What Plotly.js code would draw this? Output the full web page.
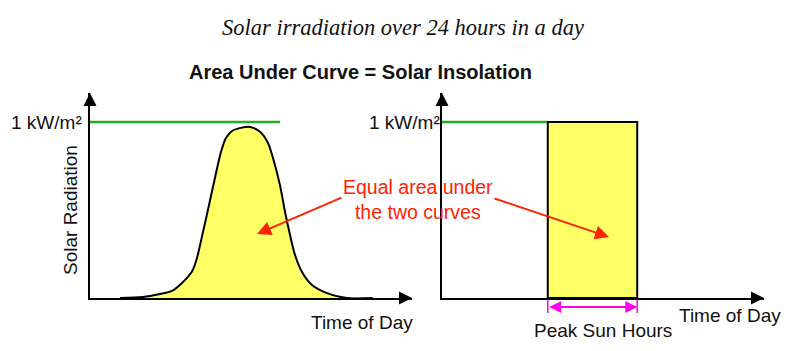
<!DOCTYPE html>
<html><head><meta charset="utf-8">
<script src="https://cdn.plot.ly/plotly-3.0.1.min.js"></script>
<style>html,body{margin:0;padding:0;background:#fff}</style>
</head><body>
<div id="chart" style="width:800px;height:351px"></div>
<script>
// Left panel: solar radiation over the day (hours vs kW/m²)
const hours = [0, 2.2, 3.85, 5.0, 5.96, 6.92, 7.4, 7.98, 8.56, 9.13, 9.71, 10.19, 10.77, 11.73, 12.5, 13.46, 14.23, 14.71, 15.38, 15.87, 16.35, 16.83, 17.5, 18.46, 19.9, 21.8, 24.3];
const radiation = [0, 0.006, 0.023, 0.04, 0.085, 0.15, 0.227, 0.375, 0.528, 0.682, 0.83, 0.909, 0.949, 0.968, 0.972, 0.945, 0.881, 0.795, 0.642, 0.489, 0.358, 0.244, 0.148, 0.074, 0.028, 0.0, 0];
const refLevel = 1; // 1 kW/m²
const refLineLeftHours = [-2.9, 15.4];
// Right panel: equivalent peak sun hours block
const peakStart = 7.7;
const peakEnd = 16.3;
const refLineRightHours = [-2.5, peakStart];
const rectHours = [peakStart, peakStart, peakEnd, peakEnd, peakStart];
const rectValues = [0, refLevel, refLevel, 0, 0];
// Text labels
const mainTitle = 'Solar irradiation over 24 hours in a day';
const subTitle = 'Area Under Curve = Solar Insolation';
const yLabel = 'Solar Radiation';
const xLabel = 'Time of Day';
const levelLabel = '1 kW/m²';
const noteText = 'Equal area under<br>the two curves';
const peakLabel = 'Peak Sun Hours';

const W = 800, H = 351;
const px = x => x / W;
const py = y => (H - y) / H;

const black = '#000000';
const yellow = '#ffff66';
const green = '#22b022';
const red = '#ff2200';
const magenta = '#ff00ee';
const sans = 'Liberation Sans, Arial, sans-serif';

const traces = [
  {x: refLineLeftHours, y: [refLevel, refLevel], xaxis: 'x', yaxis: 'y', mode: 'lines',
   line: {color: green, width: 2.5}, hoverinfo: 'skip'},
  {x: hours, y: radiation, xaxis: 'x', yaxis: 'y', mode: 'lines', fill: 'tozeroy',
   fillcolor: yellow, line: {color: black, width: 2, shape: 'spline', smoothing: 0.8}, hoverinfo: 'skip'},
  {x: refLineRightHours, y: [refLevel, refLevel], xaxis: 'x2', yaxis: 'y2', mode: 'lines',
   line: {color: green, width: 2.5}, hoverinfo: 'skip'},
  {x: rectHours, y: rectValues, xaxis: 'x2', yaxis: 'y2', mode: 'lines', fill: 'toself',
   fillcolor: yellow, line: {color: black, width: 2}, hoverinfo: 'skip'}
];

const axBase = {showline: true, linecolor: black, linewidth: 2, showgrid: false, zeroline: false,
  showticklabels: false, ticks: '', fixedrange: true};
const yDom = [py(298), py(93)];
const yRange = [0, (298 - 93) / 176];

function arrowHead(xp, yp, ax, ay) {
  return {xref: 'paper', yref: 'paper', x: px(xp), y: py(yp), ax: ax, ay: ay, text: '',
    showarrow: true, arrowhead: 2, arrowsize: 1.3, arrowwidth: 2, arrowcolor: black, standoff: 0};
}
function label(text, xp, yp, size, color, extra) {
  return Object.assign({xref: 'paper', yref: 'paper', x: px(xp), y: py(yp), text: text,
    showarrow: false, xanchor: 'center', yanchor: 'middle',
    font: {family: sans, size: size, color: color || '#111'}}, extra || {});
}

const annotations = [
  arrowHead(412, 298, -12, 0),
  arrowHead(90, 93, 0, 12),
  arrowHead(764, 298, -12, 0),
  arrowHead(442, 93, 0, 12),
  label('<b>' + subTitle + '</b>', 360, 72, 20, '#111'),
  label(levelLabel, 46, 122, 19),
  label(levelLabel, 404, 122, 19),
  label(yLabel, 70, 210, 19, '#111', {textangle: -90}),
  label(xLabel, 362, 322, 19),
  label(xLabel, 730, 315, 19),
  label(peakLabel, 603, 330, 19),
  label(noteText, 418, 199, 19.5, red),
  // red pointer arrows
  {xref: 'paper', yref: 'paper', x: px(257), y: py(234), ax: 86, ay: -37, text: '',
   showarrow: true, arrowhead: 2, arrowsize: 1.4, arrowwidth: 2, arrowcolor: red, standoff: 0},
  {xref: 'paper', yref: 'paper', x: px(609), y: py(237), ax: -116, ay: -39, text: '',
   showarrow: true, arrowhead: 2, arrowsize: 1.4, arrowwidth: 2, arrowcolor: red, standoff: 0},
  // peak sun hours double arrow
  {xref: 'x2', yref: 'paper', x: peakEnd, y: py(307), axref: 'x2', ayref: 'pixel', ax: peakStart, ay: 0,
   text: '', showarrow: true, arrowside: 'end+start', arrowhead: 2, arrowsize: 1.2, arrowwidth: 2,
   arrowcolor: magenta, standoff: 0, startstandoff: 0, startarrowhead: 2, startarrowsize: 1.2},
  {xref: 'x2', yref: 'paper', x: peakStart, y: py(313), ax: 0, ay: -15, text: '',
   showarrow: true, arrowhead: 0, arrowwidth: 1.5, arrowcolor: magenta, standoff: 0},
  {xref: 'x2', yref: 'paper', x: peakEnd, y: py(313), ax: 0, ay: -15, text: '',
   showarrow: true, arrowhead: 0, arrowwidth: 1.5, arrowcolor: magenta, standoff: 0}
];

const layout = {
  width: W, height: H,
  margin: {l: 0, r: 0, t: 0, b: 0},
  paper_bgcolor: '#ffffff', plot_bgcolor: 'rgba(0,0,0,0)',
  showlegend: false,
  title: {text: '<i>' + mainTitle + '</i>', x: px(403), y: py(27), xanchor: 'center', yanchor: 'middle',
    font: {family: 'Liberation Serif, Times New Roman, serif', size: 22.5, color: '#111'}},
  xaxis: Object.assign({}, axBase, {domain: [px(90), px(412)], range: [(90 - 120) / 10.4, (412 - 120) / 10.4], anchor: 'y'}),
  yaxis: Object.assign({}, axBase, {domain: yDom, range: yRange, anchor: 'x'}),
  xaxis2: Object.assign({}, axBase, {domain: [px(442), px(764)], range: [12 - 150.5 / 10.4, 12 + 171.5 / 10.4], anchor: 'y2'}),
  yaxis2: Object.assign({}, axBase, {domain: yDom, range: yRange, anchor: 'x2'}),
  annotations: annotations
};

Plotly.newPlot('chart', traces, layout, {displayModeBar: false, staticPlot: true});
</script>
</body></html>
